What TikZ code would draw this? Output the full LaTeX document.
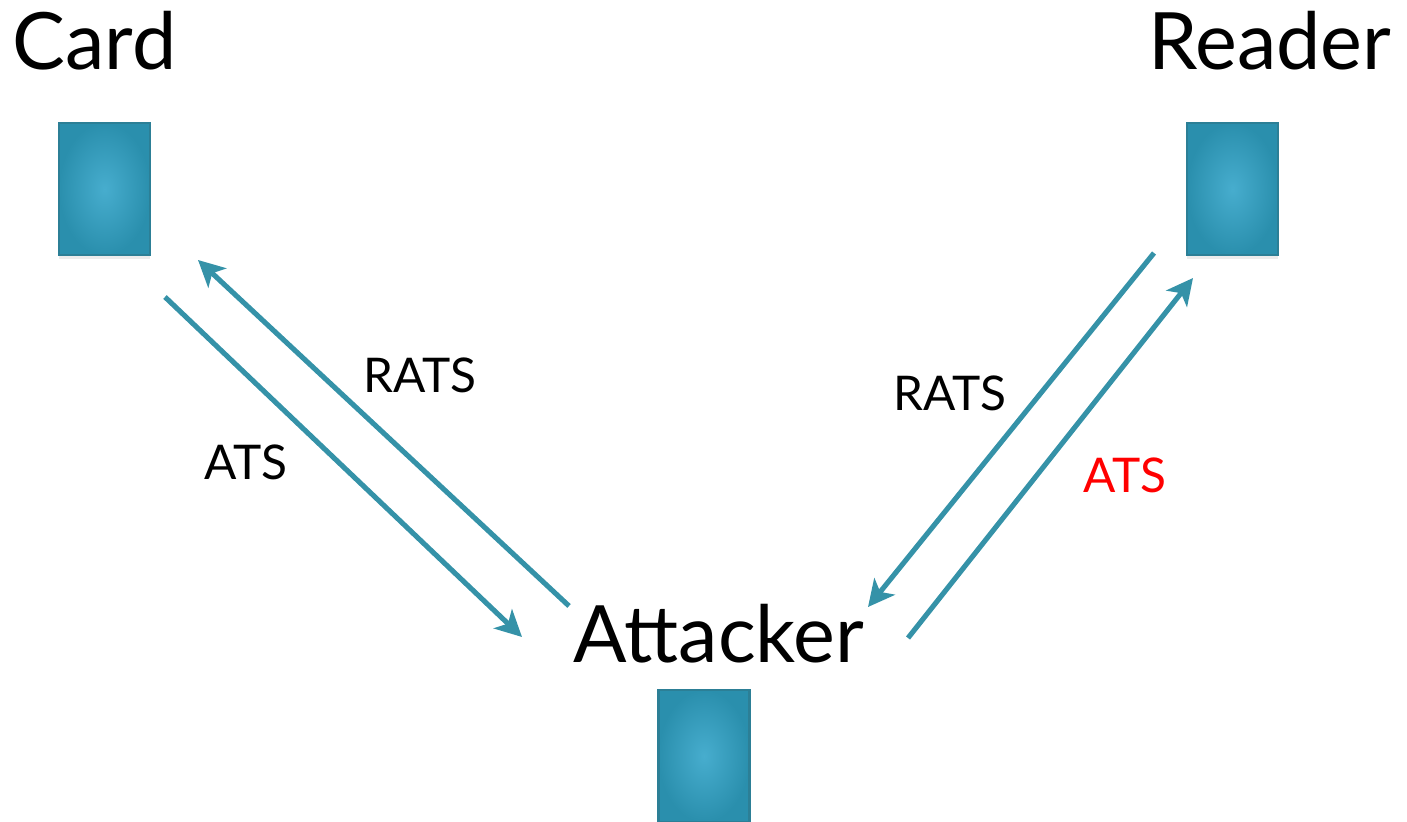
\documentclass[tikz,border=0pt]{standalone}
\usepackage{fontspec}
\setmainfont{Lato}
\usetikzlibrary{arrows.meta,shadows}
\definecolor{teal1}{HTML}{3592A8}
\definecolor{boxin}{HTML}{47ADCE}
\definecolor{boxout}{HTML}{2A8FAD}
\definecolor{boxedge}{HTML}{2C7F96}
\definecolor{atsred}{HTML}{FF0000}
\tikzset{
  devbox/.style={draw=boxedge, line width=0.8pt, inner color=boxin, outer color=boxout,
    minimum width=0.91cm, minimum height=1.32cm, inner sep=0pt,
    drop shadow={shadow xshift=0pt, shadow yshift=-0.04cm, opacity=0.15}},
  bigtext/.style={inner sep=0pt, font=\fontsize{22.5pt}{26pt}\selectfont},
  msg/.style={inner sep=0pt, font=\fontsize{13.6pt}{17pt}\selectfont},
  link/.style={draw=teal1, line width=1.45pt, -{Stealth[length=7.5pt,width=7.5pt,inset=2pt]}}
}
\begin{document}
\begin{tikzpicture}[x=0.01cm, y=-0.01cm]
\useasboundingbox (0,0) rectangle (1407,822);
\node[devbox] (card) at (104.5,189) {};
\node[devbox] (reader) at (1232.5,189) {};
\node[devbox] (att) at (704,756) {};
\node[bigtext, anchor=base west] (cardlbl) at (12,70) {Card};
\node[bigtext, anchor=base east] (readerlbl) at (1392,70) {Reader};
\node[bigtext, anchor=base] (attlbl) at (719,662) {Attacker};
\node[msg, anchor=base] (rats1) at (420,393) {RATS};
\node[msg, anchor=base] (ats1) at (246,479) {ATS};
\node[msg, anchor=base] (rats2) at (950,411) {RATS};
\node[msg, anchor=base, text=atsred] (ats2) at (1125,492) {ATS};
\coordinate (a1s) at (165,297); \coordinate (a1e) at (522,637);
\coordinate (a2s) at (569,606); \coordinate (a2e) at (198,260);
\coordinate (a3s) at (1154,253); \coordinate (a3e) at (868,607);
\coordinate (a4s) at (908,638); \coordinate (a4e) at (1193,278);
\draw[link] (a1s) -- (a1e);
\draw[link] (a2s) -- (a2e);
\draw[link] (a3s) -- (a3e);
\draw[link] (a4s) -- (a4e);
\end{tikzpicture}
\end{document}
